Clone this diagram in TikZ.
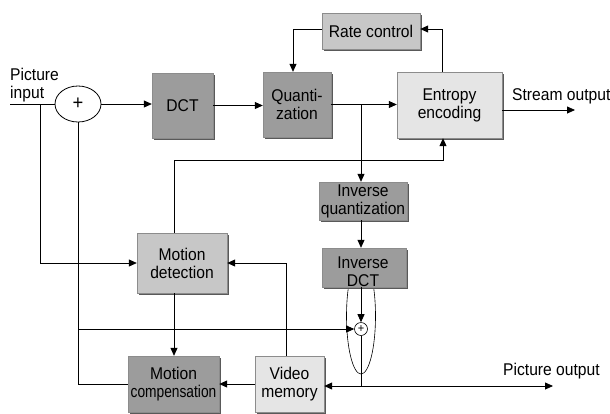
\documentclass[tikz,border=0pt]{standalone}
\usepackage{fontspec}
\setmainfont{Liberation Sans}[FakeStretch=0.92]
\usetikzlibrary{arrows.meta,shapes.geometric,shadows}
\begin{document}
\begin{tikzpicture}[x=1pt,y=-1pt,
  font=\fontsize{17}{18}\selectfont,
  blk/.style={rectangle, draw=black!45, line width=0.4pt, align=center, inner sep=0pt,
    drop shadow={shadow xshift=2pt, shadow yshift=-2pt, fill=black!65, opacity=1}},
  dark/.style={blk, fill=black!39},
  mid/.style={blk, fill=black!22},
  light/.style={blk, fill=black!10},
  conn/.style={line width=0.8pt},
  arr/.style={conn, -{Triangle[length=8pt,width=7pt]}},
  lbl/.style={inner sep=0pt, anchor=base west}]
\useasboundingbox (0,0) rectangle (610,413);
% summing ring (behind inverse DCT)
\node[ellipse, draw, line width=0.6pt, minimum width=29pt, minimum height=116pt, inner sep=0pt] (ring) at (361,316) {};
% blocks
\node[mid, minimum width=98pt, minimum height=36pt] (rc) at (371,31) {Rate control};
\node[dark, minimum width=68pt, minimum height=65pt] (qz) at (297,104.5) {Quanti-\\zation};
\node[dark, minimum width=61pt, minimum height=65pt] (dct) at (182.5,105.5) {DCT};
\node[light, minimum width=105pt, minimum height=66pt] (ent) at (449.5,105) {Entropy\\encoding};
\node[dark, minimum width=88pt, minimum height=38pt] (iq) at (363,201) {Inverse\\quantization};
\node[dark, minimum width=84pt, minimum height=39pt] (idct) at (364,267.5) {};
\node[inner sep=0pt, align=center] (idcttxt) at (363,271.5) {Inverse\\DCT};
\node[mid, minimum width=90pt, minimum height=60pt] (md) at (182,263) {Motion\\detection};
\node[dark, minimum width=91pt, minimum height=56pt] (mc) at (173.5,384) {Motion\\\scalebox{0.88}[1]{compensation}};
\node[light, minimum width=69pt, minimum height=56pt] (vm) at (289.5,384) {Video\\memory};
% adders
\node[ellipse, draw, fill=white, line width=0.8pt, minimum width=46pt, minimum height=36pt, inner sep=0pt, font=\fontsize{20}{20}\selectfont] (add1) at (78,104) {+};
\node[circle, draw, fill=white, line width=0.6pt, minimum size=13pt, inner sep=0pt, font=\fontsize{12}{12}\selectfont] (add2) at (361,329) {+};
% labels
\node[lbl] (pin1) at (10,80) {Picture};
\node[lbl] (pin2) at (10,98) {input};
\node[lbl] (sotxt) at (512,100) {Stream output};
\node[lbl] (potxt) at (503,375) {Picture output};
% coordinates
\coordinate (pinstart) at (10,104);
\coordinate (j1) at (40,104);
\coordinate (br) at (361,104.5);
\coordinate (j2) at (78,329);
\coordinate (j3) at (78,384);
\coordinate (j4) at (361,386);
\coordinate (pout) at (553,386);
\coordinate (j5) at (443,160);
\coordinate (sout) at (575,110);
% connectors
\draw[conn] (pinstart) -- (add1.west);
\draw[arr] (add1.east) -- (add1.east -| dct.west);
\draw[arr] (dct.east) -- (dct.east -| qz.west);
\draw[arr] (qz.east) -- (qz.east -| ent.west);
\draw[arr] (br) -- (br |- iq.north);
\draw[arr] (br |- iq.south) -- (br |- idct.north);
\draw[arr] (br |- idct.south) -- (add2.north);
\draw[conn] (add2.south) -- (j4);
\draw[arr] (j4) -- (j4 -| vm.east);
\draw[arr] (j4) -- (pout);
\draw[arr] (j2) -- (add2.west);
\draw[conn] (add1.south) -- (j3) -- (j3 -| mc.west);
\draw[arr] (j1) |- (md.west);
\draw[arr] ([xshift=-8pt]md.south) -- ([xshift=-8pt]md.south |- mc.north);
\draw[arr] ([xshift=-8pt]md.north) |- (j5) -- (j5 |- ent.south);
\draw[arr] ([xshift=-3.5pt]vm.north) |- (md.east);
\draw[arr] (vm.west) -- (mc.east);
\draw[arr] ([xshift=-7.5pt]ent.north) |- ([yshift=2pt]rc.east);
\draw[arr] ([yshift=2pt]rc.west) -| ([xshift=-4pt]qz.north);
\draw[arr] ([yshift=-5pt]ent.east) -- (sout);
\end{tikzpicture}
\end{document}
